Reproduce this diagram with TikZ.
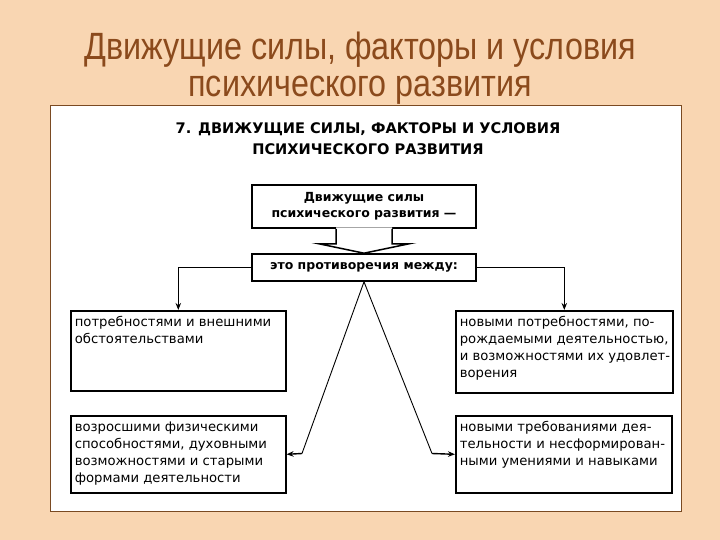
\documentclass[tikz,border=0pt]{standalone}
\usepackage{fontspec}
\setmainfont{DejaVu Sans}
\newfontfamily\slidefont[FakeStretch=0.85]{Liberation Sans}
\usetikzlibrary{arrows.meta, positioning, calc}
\definecolor{slidebg}   {HTML}{F9D6B2}
\definecolor{slidetitle}{HTML}{8B4A1C}
\definecolor{panelframe}{HTML}{7A4A22}
\newcommand{\facttext}[3]{\parbox[t][#2][t]{#1}{\begin{tabular}[t]{@{}l@{}}#3\end{tabular}}}

\begin{document}
\begin{tikzpicture}[
    x=1pt, y=-1pt,
    every node/.style={text=black},
    heading/.style={
        font=\fontsize{14.6}{21}\selectfont\bfseries,
        align=center
    },
    core/.style={
        draw, line width=1.6pt,
        minimum width=224pt, inner sep=3pt,
        align=center,
        font=\fontsize{12.5}{16}\selectfont\bfseries
    },
    fact/.style={
        draw, line width=1.6pt, anchor=north west,
        inner xsep=4pt, inner ysep=4pt,
        font=\fontsize{13.2}{17}\selectfont
    },
    link/.style={line width=1.4pt, -{Stealth[length=7pt, width=5.5pt]}},
    slant/.style={line width=0.9pt},
    blockarr/.style={line width=1.5pt, line join=miter}
]
\useasboundingbox (0,0) rectangle (720,540);

% ── BACKGROUND ─────────────────────────────────────────────────
\fill[slidebg] (0,0) rectangle (720,540);
\draw[panelframe, fill=white, line width=1pt] (50,106) rectangle (681,511);

% === TITLES ===
\node[font=\slidefont\fontsize{38}{37}\selectfont, text=slidetitle,
      align=center, anchor=base]
    (title) at (360,97)
    {Движущие силы, факторы и условия\\психического развития};

\node[heading, anchor=base]
    (heading) at (368,155)
    {7. ДВИЖУЩИЕ СИЛЫ, ФАКТОРЫ И УСЛОВИЯ\\ПСИХИЧЕСКОГО РАЗВИТИЯ};

% === CENTER COLUMN ===
\node[core, minimum height=43pt]
    (drive) at (364,206.5)
    {Движущие силы\\психического развития —};

\node[core, minimum height=27pt]
    (between) at (364,267.5)
    {это противоречия между:};

% === LEFT COLUMN ===
\node[fact]
    (needs) at (70,310)
    {\facttext{207pt}{72pt}{потребностями и внешними\\обстоятельствами}};

\node[fact]
    (grown) at (70,415)
    {\facttext{207pt}{69pt}{возросшими физическими\\способностями, духовными\\возможностями и старыми\\формами деятельности}};

% === RIGHT COLUMN ===
\node[fact]
    (newneeds) at (455,310)
    {\facttext{209pt}{74pt}{новыми потребностями, по-\\рождаемыми деятельностью,\\и возможностями их удовлет-\\ворения}};

\node[fact]
    (demands) at (455,415)
    {\facttext{208pt}{69pt}{новыми требованиями дея-\\тельности и несформирован-\\ными умениями и навыками}};

\coordinate (lbend) at (302,453.5);
\coordinate (rbend) at (432,453.5);

% ── ARROWS ─────────────────────────────────────────────────────

% Block arrow between the two center boxes
\fill[white] ($(drive.south)+(-28,-1.4)$) -- ++(0,16.4) -- ++(-17,0)
    -- (between.north) -- ($(drive.south)+(45,15)$) -- ++(-17,0)
    -- ++(0,-16.4) -- cycle;
\draw[blockarr] ($(drive.south)+(-28,0)$) -- ++(0,15) -- ++(-17,0)
    -- (between.north) -- ($(drive.south)+(45,15)$) -- ++(-17,0)
    -- ++(0,-15);

% Side branches
\draw[link] (between.west) -| (needs.north);
\draw[link] (between.east) -| (newneeds.north);

% Diagonal branches
\draw[slant] (between.south) -- (lbend);
\draw[link] (lbend) -- (grown.east);
\draw[slant] (between.south) -- (rbend);
\draw[link] (rbend) -- (demands.west);

\end{tikzpicture}
\end{document}
